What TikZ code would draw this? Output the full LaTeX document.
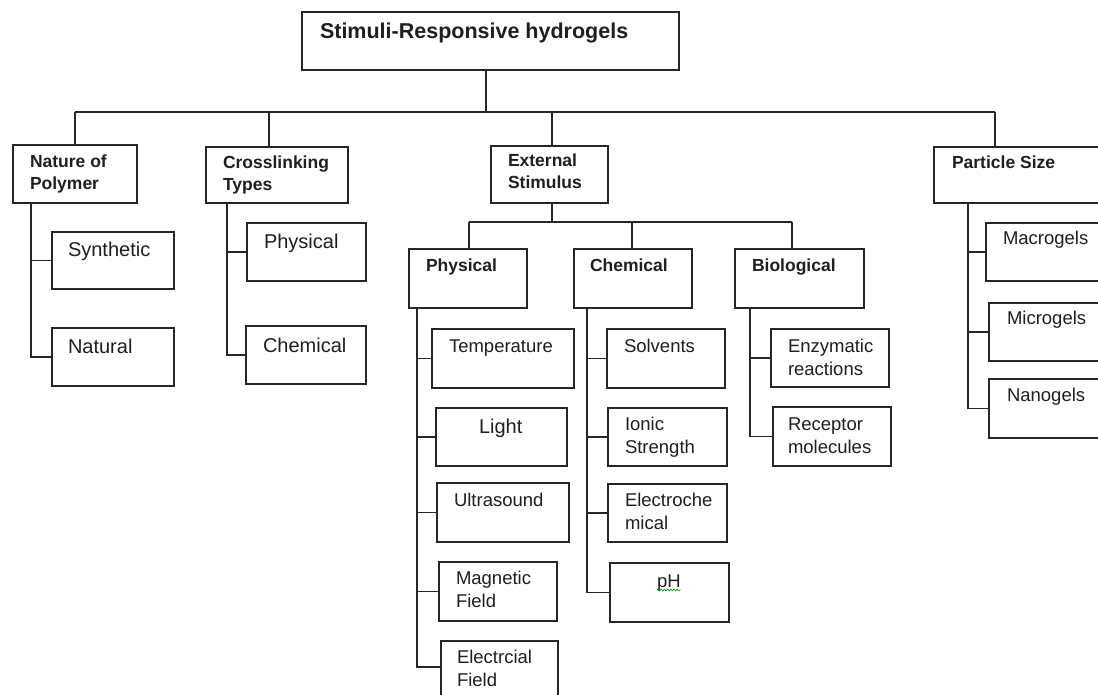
\documentclass[tikz,border=0pt]{standalone}
\usepackage{fontspec}
\setmainfont{Liberation Sans}
\usetikzlibrary{calc,decorations.pathmorphing}
\tikzset{
  box/.style={draw=black!85, line width=1.3pt, inner sep=0pt, outer sep=0pt, anchor=north west, fill=white},
  conn/.style={draw=black!85, line width=1.3pt},
  lbl/.style={anchor=base west, inner sep=0pt, outer sep=0pt, text=black!88},
  ttl/.style={font=\fontsize{21.5}{26}\selectfont\bfseries},
  hdr/.style={font=\fontsize{17.5}{22}\selectfont\bfseries},
  itm/.style={font=\fontsize{20}{23}\selectfont},
  sitm/.style={font=\fontsize{18.5}{23}\selectfont},
}
\newcommand\bx[9]{%
  \node[box, minimum width={(#4-#2)*1pt}, minimum height={(#5-#3)*1pt}] (#1) at (#2,#3) {};
  \node[lbl, #8] (#1t) at ($(#1.north west)+(#6,#7)$) {#9};}
\newcommand\twoline[2]{\vtop{\hbox{#1}\hbox{#2}}}
\begin{document}
\begin{tikzpicture}[x=1pt,y=-1pt]
\fill[white] (0,0) rectangle (1098,695);
\clip (0,0) rectangle (1098,695);
% top level
\bx{root}{302}{12}{679}{70}{18}{27}{ttl}{Stimuli-Responsive hydrogels}
\bx{nat}{13}{145}{137}{203}{17}{23}{hdr}{\twoline{Nature of}{Polymer}}
\bx{cross}{206}{147}{348}{203}{17}{22}{hdr}{\twoline{Crosslinking}{Types}}
\bx{ext}{491}{146}{608}{203}{17}{21}{hdr}{\twoline{External}{Stimulus}}
\bx{part}{934}{147}{1110}{203}{18}{22}{hdr}{Particle Size}
% external stimulus children
\bx{phys}{409}{249}{527}{308}{17}{23}{hdr}{Physical}
\bx{chem}{574}{249}{692}{308}{16}{23}{hdr}{Chemical}
\bx{bio}{735}{249}{864}{308}{17}{23}{hdr}{Biological}
% nature of polymer
\bx{syn}{52}{232}{174}{289}{16}{25}{itm}{Synthetic}
\bx{natr}{52}{328}{174}{386}{16}{25}{itm}{Natural}
% crosslinking
\bx{cphy}{247}{223}{366}{281}{17}{26}{itm}{Physical}
\bx{cche}{246}{326}{366}{384}{17}{26}{itm}{Chemical}
% physical stimuli
\bx{temp}{432}{329}{574}{388}{17}{23}{sitm}{Temperature}
\bx{light}{436}{408}{567}{466}{43}{25}{itm}{Light}
\bx{ultra}{437}{483}{569}{542}{17}{23}{sitm}{Ultrasound}
\bx{mag}{439}{562}{557}{621}{17}{22}{sitm}{\twoline{Magnetic}{Field}}
\bx{elec}{441}{641}{558}{712}{16}{22}{sitm}{\twoline{Electrcial}{Field}}
% chemical stimuli
\bx{solv}{607}{329}{725}{388}{17}{23}{sitm}{Solvents}
\bx{ionic}{608}{408}{727}{466}{17}{22}{sitm}{\twoline{Ionic}{Strength}}
\bx{echem}{608}{484}{727}{542}{17}{22}{sitm}{\twoline{Electroche}{mical}}
\bx{ph}{610}{563}{729}{622}{47}{24}{sitm}{pH}
% biological stimuli
\bx{enz}{771}{329}{889}{387}{17}{23}{sitm}{\twoline{Enzymatic}{reactions}}
\bx{rec}{773}{407}{891}{466}{15}{23}{sitm}{\twoline{Receptor}{molecules}}
% particle size
\bx{macro}{986}{223}{1110}{281}{17}{22}{sitm}{Macrogels}
\bx{micro}{989}{303}{1110}{361}{18}{21}{sitm}{Microgels}
\bx{nano}{989}{379}{1110}{438}{18}{22}{sitm}{Nanogels}
% spell-check squiggle under pH
\draw[green!55!black, line width=0.6pt, decorate, decoration={snake, amplitude=0.9pt, segment length=3.2pt}]
  ($(pht.base west)+(0,3)$) -- ($(pht.base east)+(0,3)$);
% main bus
\coordinate (bus) at (486,112);
\coordinate (busL) at (75,112);
\coordinate (busR) at (995,112);
\coordinate (bC) at (269,112);
\coordinate (bE) at (552,112);
\draw[conn] (root.south -| bus) -- (bus);
\draw[conn] (busL) -- (busR);
\draw[conn] (busL) -- (busL |- nat.north);
\draw[conn] (bC) -- (bC |- cross.north);
\draw[conn] (bE) -- (bE |- ext.north);
\draw[conn] (busR) -- (busR |- part.north);
% external sub bus
\coordinate (eb) at (552,222);
\coordinate (ebL) at (469,222);
\coordinate (ebM) at (632,222);
\coordinate (ebR) at (792,222);
\draw[conn] (ext.south -| eb) -- (eb);
\draw[conn] (ebL) -- (ebR);
\draw[conn] (ebL) -- (ebL |- phys.north);
\draw[conn] (ebM) -- (ebM |- chem.north);
\draw[conn] (ebR) -- (ebR |- bio.north);
% nature of polymer trunk
\coordinate (nv) at (31,0);
\draw[conn] (nat.south -| nv) |- (natr.west);
\draw[conn] (nv |- syn.west) -- (syn.west);
% crosslinking trunk
\coordinate (cv) at (227,0);
\draw[conn] (cross.south -| cv) |- (cche.west);
\draw[conn] (cv |- cphy.west) -- (cphy.west);
% physical trunk
\coordinate (pv) at (417,0);
\coordinate (elecw) at ($(elec.north west)+(0,26)$);
\draw[conn] (phys.south -| pv) |- (elecw);
\draw[conn] (pv |- temp.west) -- (temp.west);
\draw[conn] (pv |- light.west) -- (light.west);
\draw[conn] (pv |- ultra.west) -- (ultra.west);
\draw[conn] (pv |- mag.west) -- (mag.west);
% chemical trunk
\coordinate (chv) at (587,0);
\draw[conn] (chem.south -| chv) |- (ph.west);
\draw[conn] (chv |- solv.west) -- (solv.west);
\draw[conn] (chv |- ionic.west) -- (ionic.west);
\draw[conn] (chv |- echem.west) -- (echem.west);
% biological trunk
\coordinate (bv) at (750,0);
\draw[conn] (bio.south -| bv) |- (rec.west);
\draw[conn] (bv |- enz.west) -- (enz.west);
% particle size trunk
\coordinate (psv) at (968,0);
\draw[conn] (part.south -| psv) |- (nano.west);
\draw[conn] (psv |- macro.west) -- (macro.west);
\draw[conn] (psv |- micro.west) -- (micro.west);
\end{tikzpicture}
\end{document}
